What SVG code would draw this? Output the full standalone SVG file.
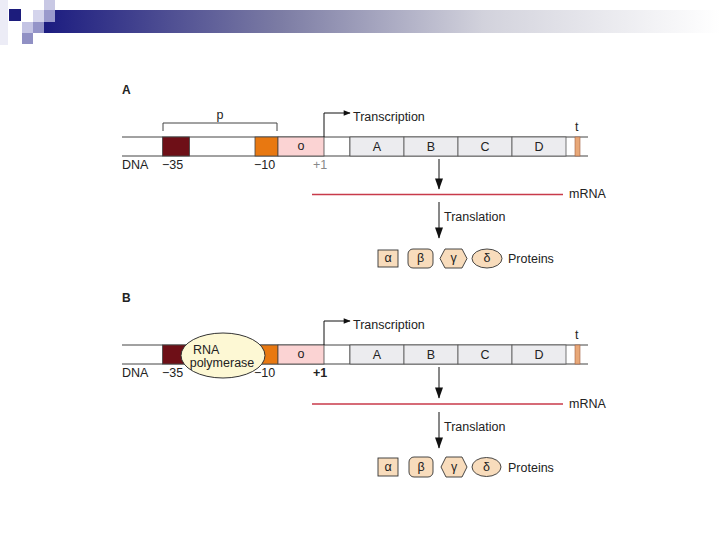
<svg xmlns="http://www.w3.org/2000/svg" width="720" height="540" viewBox="0 0 720 540">
<defs>
<linearGradient id="bar" x1="0" y1="0" x2="1" y2="0">
<stop offset="0" stop-color="#1c1c80"/>
<stop offset="0.35" stop-color="#7c7ca4"/>
<stop offset="0.65" stop-color="#d2d2dc"/>
<stop offset="1" stop-color="#ffffff"/>
</linearGradient>
<marker id="ah" viewBox="0 0 10 10" refX="9" refY="5" markerWidth="8" markerHeight="7" orient="auto" markerUnits="userSpaceOnUse">
<path d="M0,1 L10,5 L0,9 z" fill="#111"/>
</marker>
<marker id="ahd" viewBox="0 0 14 10" refX="13" refY="5" markerWidth="13" markerHeight="8" orient="auto" markerUnits="userSpaceOnUse">
<path d="M0,0 L14,5 L0,10 z" fill="#111"/>
</marker>
</defs>
<style>
text{font-family:"Liberation Sans","DejaVu Sans",sans-serif;fill:#222;font-size:12.5px}
.lbl{font-weight:bold;font-size:12px}
.dna{stroke:#444;stroke-width:1;fill:none}
.bx{stroke:#444;stroke-width:0.8}
.gene{fill:#ececef;stroke:#555;stroke-width:0.8}
.prot{fill:#f8dcbc;stroke:#333;stroke-width:0.9}
.mrna{stroke:#c83a4a;stroke-width:1.5}
.ar{stroke:#111;stroke-width:1;fill:none}
.c{text-anchor:middle}
</style>
<rect width="720" height="540" fill="#fff"/>
<g id="header">
<rect x="0" y="0" width="8" height="45" fill="#ececf6"/>
<rect x="44" y="10" width="676" height="23" fill="url(#bar)"/>
<rect x="9" y="9" width="12" height="12" fill="#1c1c7c"/>
<rect x="33" y="10" width="11" height="12" fill="#d4d4ec"/>
<rect x="44" y="0" width="11" height="10" fill="#c8c8e4"/>
<rect x="44" y="10" width="11" height="12" fill="#9a9acc"/>
<rect x="22" y="22" width="11" height="11" fill="#c4c4e4"/>
<rect x="33" y="22" width="11" height="11" fill="#9494c8"/>
<rect x="22" y="33" width="11" height="11" fill="#9090c4"/>
</g>

<g id="panelA">
<text class="lbl" x="122" y="94">A</text>
<path class="dna" d="M163 131 V123 H277 V131"/>
<text class="c" x="220" y="119" font-size="13">p</text>
<g id="dnaA">
<line class="dna" x1="122" y1="137" x2="588" y2="137"/>
<line class="dna" x1="122" y1="156" x2="588" y2="156"/>
<rect class="bx" x="162.5" y="137" width="27" height="19" fill="#6e0f17"/>
<rect class="bx" x="255" y="137" width="23" height="19" fill="#e87811"/>
<rect class="bx" x="278" y="137" width="46" height="19" fill="#fbd3d3"/>
<text class="c" x="301" y="150" font-size="10.5">o</text>
<line class="dna" x1="350" y1="137" x2="350" y2="156"/>
<rect class="gene" x="350" y="137" width="54" height="19"/>
<rect class="gene" x="404" y="137" width="54" height="19"/>
<rect class="gene" x="458" y="137" width="54" height="19"/>
<rect class="gene" x="512" y="137" width="54" height="19"/>
<text class="c" x="377" y="151" font-size="12.5">A</text>
<text class="c" x="431" y="151" font-size="12.5">B</text>
<text class="c" x="485" y="151" font-size="12.5">C</text>
<text class="c" x="539" y="151" font-size="12.5">D</text>
<rect x="575" y="137" width="5" height="19" fill="#e8a878" stroke="#a06040" stroke-width="0.6"/>
<text x="575" y="131" font-size="11.5">t</text>
</g>
<text x="122" y="169">DNA</text>
<text x="162" y="169">−35</text>
<text x="254" y="169">−10</text>
<text x="313" y="169" style="fill:#888">+1</text>
<text x="353" y="121">Transcription</text>
<text x="569" y="198">mRNA</text>
<text x="444" y="221">Translation</text>
<g id="proteinsA">
<rect class="prot" x="378" y="250" width="20" height="17"/>
<text class="c" x="388" y="262" font-size="11.5">α</text>
<rect class="prot" x="408" y="249" width="25" height="19" rx="5"/>
<text class="c" x="420.5" y="262" font-size="11.5">β</text>
<polygon class="prot" points="440,258.5 445,249 462,249 467,258.5 462,268 445,268"/>
<text class="c" x="453.5" y="262" font-size="11.5">γ</text>
<ellipse class="prot" cx="487" cy="258.5" rx="15" ry="9.5"/>
<text class="c" x="487" y="262" font-size="11.5">δ</text>
<text x="508" y="263">Proteins</text>
</g>
</g>

<g id="panelB">
<text class="lbl" x="122" y="302">B</text>
<g id="dnaB">
<line class="dna" x1="122" y1="345" x2="588" y2="345"/>
<line class="dna" x1="122" y1="364" x2="588" y2="364"/>
<rect class="bx" x="162.5" y="345" width="27" height="19" fill="#6e0f17"/>
<rect class="bx" x="255" y="345" width="23" height="19" fill="#e87811"/>
<rect class="bx" x="278" y="345" width="46" height="19" fill="#fbd3d3"/>
<text class="c" x="301" y="358" font-size="10.5">o</text>
<line class="dna" x1="350" y1="345" x2="350" y2="364"/>
<rect class="gene" x="350" y="345" width="54" height="19"/>
<rect class="gene" x="404" y="345" width="54" height="19"/>
<rect class="gene" x="458" y="345" width="54" height="19"/>
<rect class="gene" x="512" y="345" width="54" height="19"/>
<text class="c" x="377" y="359" font-size="12.5">A</text>
<text class="c" x="431" y="359" font-size="12.5">B</text>
<text class="c" x="485" y="359" font-size="12.5">C</text>
<text class="c" x="539" y="359" font-size="12.5">D</text>
<rect x="575" y="345" width="5" height="19" fill="#e8a878" stroke="#a06040" stroke-width="0.6"/>
<text x="575" y="339" font-size="11.5">t</text>
</g>
<text x="122" y="377">DNA</text>
<text x="162" y="377">−35</text>
<text x="254" y="377">−10</text>
<text x="313" y="377" font-weight="bold">+1</text>
<g id="polymerase">
<ellipse cx="223" cy="355.5" rx="42" ry="22.5" fill="#fdf8d4" stroke="#333" stroke-width="1"/>
<text x="193" y="354" font-size="12.5">RNA</text>
<text class="c" x="222" y="367" font-size="12.5">polymerase</text>
</g>
<text x="353" y="329">Transcription</text>
<text x="569" y="408">mRNA</text>
<text x="444" y="431">Translation</text>
<g id="proteinsB">
<rect class="prot" x="378" y="458" width="20" height="18"/>
<text class="c" x="388" y="471" font-size="11.5">α</text>
<rect class="prot" x="409" y="457" width="24" height="20" rx="5"/>
<text class="c" x="421" y="471" font-size="11.5">β</text>
<polygon class="prot" points="441,467 446,457 462,457 467,467 462,477 446,477"/>
<text class="c" x="454" y="471" font-size="11.5">γ</text>
<ellipse class="prot" cx="486.5" cy="467" rx="14.5" ry="9.5"/>
<text class="c" x="486.5" y="471" font-size="11.5">δ</text>
<text x="508" y="472">Proteins</text>
</g>
</g>

<g id="connectors">
<path class="ar" d="M324 137 V113 H350" marker-end="url(#ah)"/>
<line class="ar" x1="439" y1="159" x2="439" y2="189" marker-end="url(#ahd)"/>
<line class="mrna" x1="312" y1="194.5" x2="563" y2="194.5"/>
<line class="ar" x1="439" y1="202" x2="439" y2="238" marker-end="url(#ahd)"/>
<path class="ar" d="M324 345 V321 H350" marker-end="url(#ah)"/>
<line class="ar" x1="439" y1="367" x2="439" y2="398" marker-end="url(#ahd)"/>
<line class="mrna" x1="312" y1="404" x2="563" y2="404"/>
<line class="ar" x1="439" y1="412" x2="439" y2="448" marker-end="url(#ahd)"/>
</g>
</svg>
